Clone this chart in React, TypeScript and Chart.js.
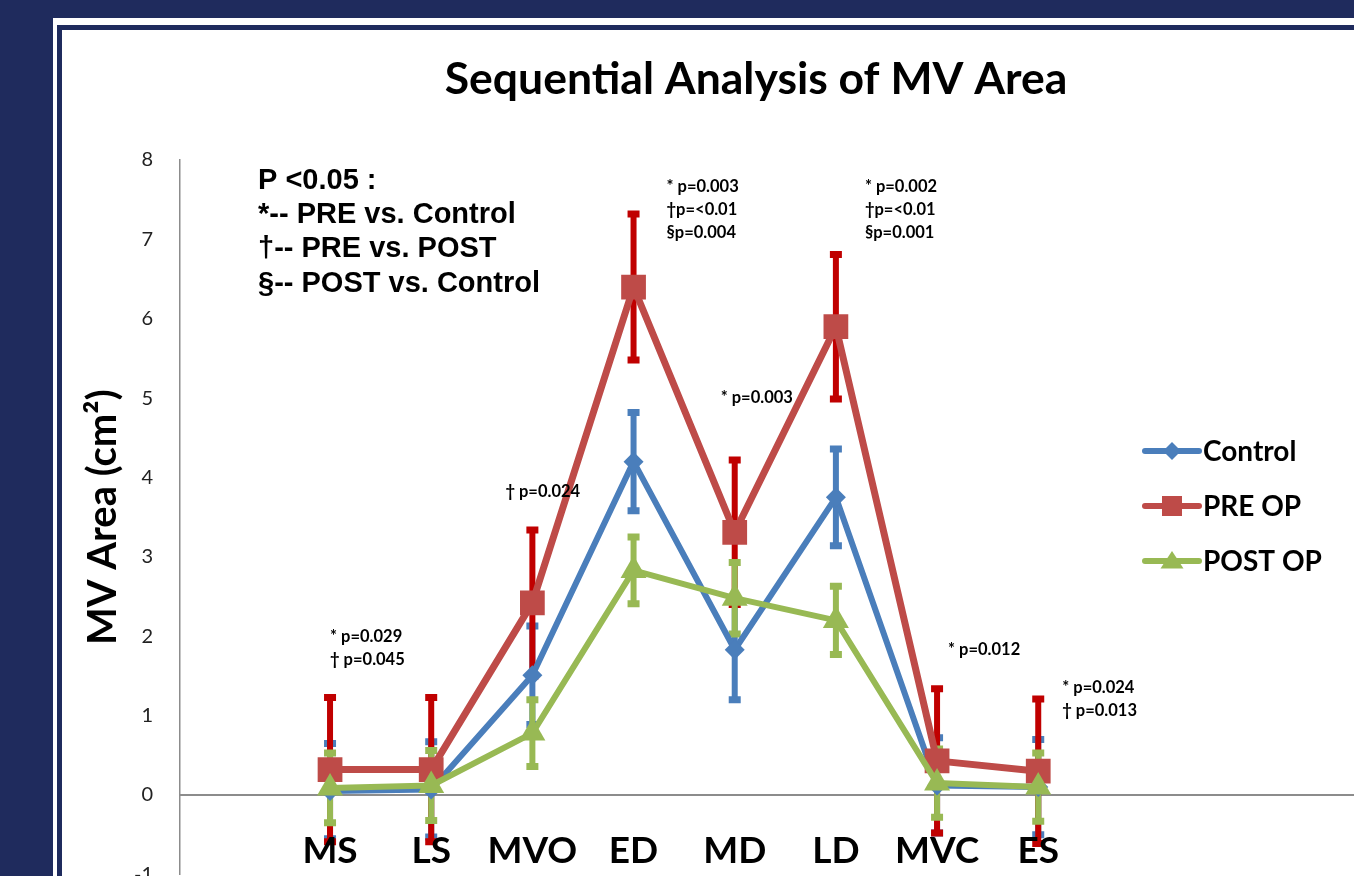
import React, { useEffect, useRef } from 'react';
import { Chart, registerables } from 'chart.js';

Chart.register(...registerables);

// ---------- data ----------
const CATEGORIES = ['MS', 'LS', 'MVO', 'ED', 'MD', 'LD', 'MVC', 'ES'];
const CONTROL = [0.05, 0.07, 1.51, 4.2, 1.83, 3.75, 0.12, 0.1];
const CONTROL_SD = [0.6, 0.6, 0.62, 0.62, 0.63, 0.61, 0.6, 0.6];
const PRE_OP = [0.32, 0.32, 2.42, 6.4, 3.31, 5.9, 0.43, 0.3];
const PRE_OP_SD = [0.91, 0.91, 0.92, 0.92, 0.91, 0.91, 0.91, 0.91];
const POST_OP = [0.09, 0.12, 0.78, 2.83, 2.48, 2.2, 0.15, 0.1];
const POST_OP_SD = [0.44, 0.44, 0.42, 0.42, 0.45, 0.43, 0.43, 0.43];
const SERIES_NAMES = ['Control', 'PRE OP', 'POST OP'];
const Y_MIN = -1;
const Y_MAX = 8;

const KEY_LINES = ['P <0.05 :', '*-- PRE vs. Control', '†-- PRE vs. POST', '§-- POST vs. Control'];
const P_NOTES = [
  { cat: 0, lines: ['* p=0.029', '† p=0.045'] },
  { cat: 2, lines: ['† p=0.024'] },
  { cat: 3, lines: ['* p=0.003', '†p=<0.01', '§p=0.004'] },
  { cat: 4, lines: ['* p=0.003'] },
  { cat: 5, lines: ['* p=0.002', '†p=<0.01', '§p=0.001'] },
  { cat: 6, lines: ['* p=0.012'] },
  { cat: 7, lines: ['* p=0.024', '† p=0.013'] },
];

// ---------- layout / style (not data) ----------
const NAVY = '#1f2b5d';
const BLUE = '#4a7ebb';
const RED = '#be4b48';
const RED_BAR = '#c00000';
const GREEN = '#98b954';
const FONT = 'Lato, "Open Sans", sans-serif';
const NOTE_PLACES = [
  { dx: 0, y: 1.99 },
  { dx: -27, y: 3.82 },
  { dx: 33, y: 7.67 },
  { dx: -14, y: 5.01 },
  { dx: 29, y: 7.67 },
  { dx: 11, y: 1.83 },
  { dx: 24, y: 1.35 },
];

const errorBarPlugin = {
  id: 'errorBars',
  beforeDatasetsDraw(chart: any) {
    const { ctx } = chart;
    const xs = chart.scales.x;
    const ys = chart.scales.y;
    chart.data.datasets.forEach((ds: any) => {
      const sd: number[] = ds.errors;
      ctx.save();
      ctx.strokeStyle = ds.errorColor;
      ctx.lineCap = 'butt';
      ds.data.forEach((pt: any, i: number) => {
        const px = xs.getPixelForValue(pt.x);
        const top = ys.getPixelForValue(pt.y + sd[i]);
        const bot = ys.getPixelForValue(pt.y - sd[i]);
        ctx.lineWidth = 6;
        ctx.beginPath();
        ctx.moveTo(px, top);
        ctx.lineTo(px, bot);
        ctx.stroke();
        ctx.lineWidth = 7;
        ctx.beginPath();
        ctx.moveTo(px - 6, top);
        ctx.lineTo(px + 6, top);
        ctx.moveTo(px - 6, bot);
        ctx.lineTo(px + 6, bot);
        ctx.stroke();
      });
      ctx.restore();
    });
  },
};

function drawMarker(ctx: any, style: string, x: number, y: number, r: number, color: string) {
  ctx.fillStyle = color;
  ctx.beginPath();
  if (style === 'rectRot') {
    ctx.moveTo(x, y - r);
    ctx.lineTo(x + r, y);
    ctx.lineTo(x, y + r);
    ctx.lineTo(x - r, y);
  } else if (style === 'rect') {
    ctx.rect(x - r, y - r, 2 * r, 2 * r);
  } else {
    ctx.moveTo(x, y - r);
    ctx.lineTo(x + r * 1.15, y + r * 0.75);
    ctx.lineTo(x - r * 1.15, y + r * 0.75);
  }
  ctx.closePath();
  ctx.fill();
}

const overlayPlugin = {
  id: 'overlay',
  afterDatasetsDraw(chart: any) {
    const { ctx, chartArea } = chart;
    const xs = chart.scales.x;
    const ys = chart.scales.y;
    ctx.save();
    // key text
    ctx.fillStyle = '#000';
    ctx.textBaseline = 'middle';
    ctx.textAlign = 'left';
    ctx.font = 'bold 29px "Liberation Sans", Arial, sans-serif';
    KEY_LINES.forEach((t, i) => {
      ctx.fillText(t, chartArea.left + 78, chartArea.top + 21 + i * 34.2);
    });
    // p-value notes
    ctx.font = `bold 16.5px ${FONT}`;
    P_NOTES.forEach((n, k) => {
      const place = NOTE_PLACES[k];
      const x = xs.getPixelForValue(n.cat) + place.dx;
      const y0 = ys.getPixelForValue(place.y);
      n.lines.forEach((t, i) => ctx.fillText(t, x, y0 + i * 23));
    });
    // legend
    const lx = chartArea.left + 962;
    const ly = chartArea.top + 291;
    chart.data.datasets.forEach((ds: any, i: number) => {
      const y = ly + i * 55;
      ctx.strokeStyle = ds.borderColor;
      ctx.lineWidth = 6;
      ctx.lineCap = 'round';
      ctx.beginPath();
      ctx.moveTo(lx + 3, y);
      ctx.lineTo(lx + 57, y);
      ctx.stroke();
      const r = ds.pointStyle === 'rectRot' ? 9 : 10;
      drawMarker(ctx, ds.pointStyle, lx + 30, y, r, ds.borderColor);
      ctx.fillStyle = '#000';
      ctx.font = `bold 28px ${FONT}`;
      ctx.fillText(ds.label, lx + 61, y + 1);
    });
    ctx.restore();
  },
};

function makeData(values: number[]) {
  return values.map((v, i) => ({ x: i, y: v }));
}

export default function App() {
  const ref = useRef<HTMLCanvasElement | null>(null);

  useEffect(() => {
    if (!ref.current) return;
    const common = {
      borderWidth: 6,
      tension: 0,
      borderJoinStyle: 'round',
      pointBorderWidth: 0,
      pointHoverRadius: 0,
    };
    const chart = new Chart(ref.current, {
      type: 'line',
      data: {
        datasets: [
          {
            ...common,
            label: SERIES_NAMES[0],
            data: makeData(CONTROL),
            errors: CONTROL_SD,
            errorColor: BLUE,
            borderColor: BLUE,
            backgroundColor: BLUE,
            pointBackgroundColor: BLUE,
            pointStyle: 'rectRot',
            pointRadius: 10,
            order: 3,
          },
          {
            ...common,
            label: SERIES_NAMES[1],
            data: makeData(PRE_OP),
            errors: PRE_OP_SD,
            errorColor: RED_BAR,
            borderColor: RED,
            backgroundColor: RED,
            pointBackgroundColor: RED,
            pointStyle: 'rect',
            pointRadius: 17.5,
            borderWidth: 7,
            order: 2,
          },
          {
            ...common,
            label: SERIES_NAMES[2],
            data: makeData(POST_OP),
            errors: POST_OP_SD,
            errorColor: GREEN,
            borderColor: GREEN,
            backgroundColor: GREEN,
            pointBackgroundColor: GREEN,
            pointStyle: 'triangle',
            pointRadius: 15,
            order: 1,
          },
        ] as any,
      },
      options: {
        responsive: false,
        animation: false,
        events: [],
        layout: { padding: { left: 0, right: 0, top: 0, bottom: 55.6 } },
        plugins: {
          legend: { display: false },
          tooltip: { enabled: false },
          title: {
            display: true,
            text: 'Sequential Analysis of MV Area',
            color: '#000',
            font: { family: FONT, size: 44.5, weight: 'bold' },
            padding: { top: 23, bottom: 53.6 },
          },
        },
        scales: {
          x: {
            type: 'linear',
            position: { y: 0 } as any,
            min: -1.483,
            max: 10.897,
            grid: { display: false, drawTicks: false },
            border: { display: true, color: '#8c8c8c', width: 2 },
            afterBuildTicks: (scale: any) => {
              scale.ticks = CATEGORIES.map((_, i) => ({ value: i }));
            },
            ticks: {
              z: 1,
              padding: 34,
              maxRotation: 0,
              autoSkip: false,
              color: '#000',
              font: { family: FONT, size: 37, weight: 'bold' },
              callback: (v: any) => CATEGORIES[v] ?? '',
            },
          },
          y: {
            type: 'linear',
            min: Y_MIN,
            max: Y_MAX,
            afterFit: (scale: any) => {
              scale.width = 118;
            },
            grid: { display: false, drawTicks: false },
            border: { display: true, color: '#8c8c8c', width: 1.5 },
            ticks: {
              stepSize: 1,
              padding: 27,
              color: '#222',
              font: { family: FONT, size: 20 },
            },
            title: {
              display: true,
              text: 'MV Area (cm²)',
              color: '#000',
              font: { family: FONT, size: 40, weight: 'bold' },
              padding: { top: 17, bottom: 0 },
            },
          },
        },
      } as any,
      plugins: [errorBarPlugin, overlayPlugin],
    });
    return () => chart.destroy();
  }, []);

  return (
    <div
      style={{
        position: 'fixed',
        left: 0,
        top: 0,
        width: 1354,
        height: 876,
        overflow: 'hidden',
        background: NAVY,
      }}
    >
      <div style={{ position: 'absolute', left: 53, top: 18, width: 1500, height: 1000, background: '#fff' }} />
      <div
        style={{
          position: 'absolute',
          left: 57,
          top: 25,
          width: 1500,
          height: 1000,
          border: `5px solid ${NAVY}`,
          boxSizing: 'border-box',
          background: '#fff',
        }}
      />
      <canvas
        ref={ref}
        width={1388}
        height={900}
        style={{ position: 'absolute', left: 62, top: 30, width: 1388, height: 900 }}
      />
    </div>
  );
}
